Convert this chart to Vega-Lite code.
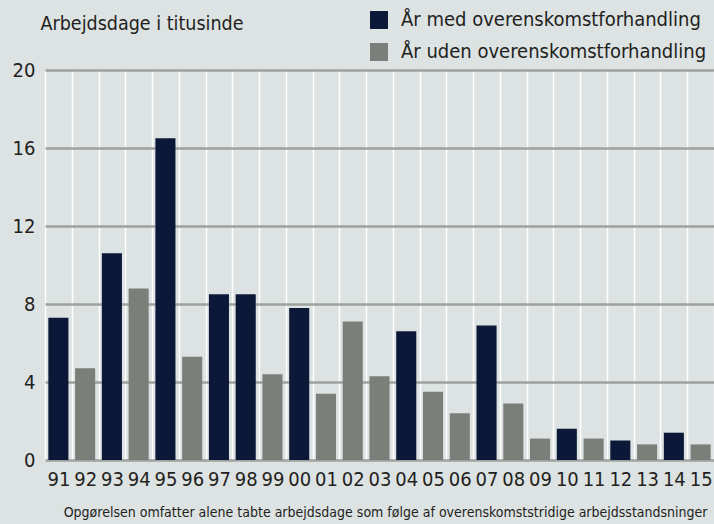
{
  "$schema": "https://vega.github.io/schema/vega-lite/v6.json",
  "width": 669,
  "height": 390,
  "autosize": {"type": "none"},
  "padding": {"left": 45, "top": 70, "right": 0, "bottom": 64},
  "background": "#dde2e3",
  "config": {
    "view": {"stroke": null},
    "font": "DejaVu Sans Condensed, sans-serif",
    "axis": {"labelColor": "#231f20", "titleColor": "#231f20"}
  },
  "data": {
    "values": [
      {"aar": "91", "vaerdi": 7.3, "type": "År med overenskomstforhandling"},
      {"aar": "92", "vaerdi": 4.7, "type": "År uden overenskomstforhandling"},
      {"aar": "93", "vaerdi": 10.6, "type": "År med overenskomstforhandling"},
      {"aar": "94", "vaerdi": 8.8, "type": "År uden overenskomstforhandling"},
      {"aar": "95", "vaerdi": 16.5, "type": "År med overenskomstforhandling"},
      {"aar": "96", "vaerdi": 5.3, "type": "År uden overenskomstforhandling"},
      {"aar": "97", "vaerdi": 8.5, "type": "År med overenskomstforhandling"},
      {"aar": "98", "vaerdi": 8.5, "type": "År med overenskomstforhandling"},
      {"aar": "99", "vaerdi": 4.4, "type": "År uden overenskomstforhandling"},
      {"aar": "00", "vaerdi": 7.8, "type": "År med overenskomstforhandling"},
      {"aar": "01", "vaerdi": 3.4, "type": "År uden overenskomstforhandling"},
      {"aar": "02", "vaerdi": 7.1, "type": "År uden overenskomstforhandling"},
      {"aar": "03", "vaerdi": 4.3, "type": "År uden overenskomstforhandling"},
      {"aar": "04", "vaerdi": 6.6, "type": "År med overenskomstforhandling"},
      {"aar": "05", "vaerdi": 3.5, "type": "År uden overenskomstforhandling"},
      {"aar": "06", "vaerdi": 2.4, "type": "År uden overenskomstforhandling"},
      {"aar": "07", "vaerdi": 6.9, "type": "År med overenskomstforhandling"},
      {"aar": "08", "vaerdi": 2.9, "type": "År uden overenskomstforhandling"},
      {"aar": "09", "vaerdi": 1.1, "type": "År uden overenskomstforhandling"},
      {"aar": "10", "vaerdi": 1.6, "type": "År med overenskomstforhandling"},
      {"aar": "11", "vaerdi": 1.1, "type": "År uden overenskomstforhandling"},
      {"aar": "12", "vaerdi": 1.0, "type": "År med overenskomstforhandling"},
      {"aar": "13", "vaerdi": 0.8, "type": "År uden overenskomstforhandling"},
      {"aar": "14", "vaerdi": 1.4, "type": "År med overenskomstforhandling"},
      {"aar": "15", "vaerdi": 0.8, "type": "År uden overenskomstforhandling"}
    ]
  },
  "mark": {"type": "bar", "width": {"band": 0.75}},
  "encoding": {
    "x": {
      "field": "aar",
      "type": "nominal",
      "sort": null,
      "scale": {"paddingInner": 0, "paddingOuter": 0},
      "axis": {
        "title": "Opgørelsen omfatter alene tabte arbejdsdage som følge af overenskomststridige arbejdsstandsninger",
        "titleAnchor": "end",
        "titleX": 662,
        "titleAlign": "right",
        "titleFontSize": 14,
        "titleFontWeight": "normal",
        "titlePadding": 16,
        "labelAngle": 0,
        "labelFontSize": 20,
        "labelPadding": 9,
        "ticks": false,
        "domain": false,
        "grid": true,
        "tickBand": "extent",
        "gridColor": "#ffffff",
        "gridWidth": 1.5,
        "gridOpacity": 1
      }
    },
    "y": {
      "field": "vaerdi",
      "type": "quantitative",
      "scale": {"domain": [0, 20]},
      "axis": {
        "title": "Arbejdsdage i titusinde",
        "titleAngle": 0,
        "titleAlign": "left",
        "titleBaseline": "alphabetic",
        "titleX": -5,
        "titleY": -41,
        "titleFontSize": 19.5,
        "titleFontWeight": "normal",
        "values": [0, 4, 8, 12, 16, 20],
        "labelFontSize": 20,
        "labelPadding": 10,
        "ticks": false,
        "domain": false,
        "grid": true,
        "gridColor": "#9ea29e",
        "gridWidth": 2.5,
        "gridOpacity": 1
      }
    },
    "color": {
      "field": "type",
      "type": "nominal",
      "scale": {
        "domain": ["År med overenskomstforhandling", "År uden overenskomstforhandling"],
        "range": ["#0c1838", "#7b7f79"]
      },
      "legend": {
        "title": null,
        "orient": "none",
        "legendX": 324,
        "legendY": -60,
        "symbolType": "square",
        "symbolSize": 324,
        "symbolStrokeWidth": 0,
        "labelFontSize": 20,
        "labelColor": "#231f20",
        "labelOffset": 12,
        "rowPadding": 12,
        "labelLimit": 400
      }
    }
  }
}
